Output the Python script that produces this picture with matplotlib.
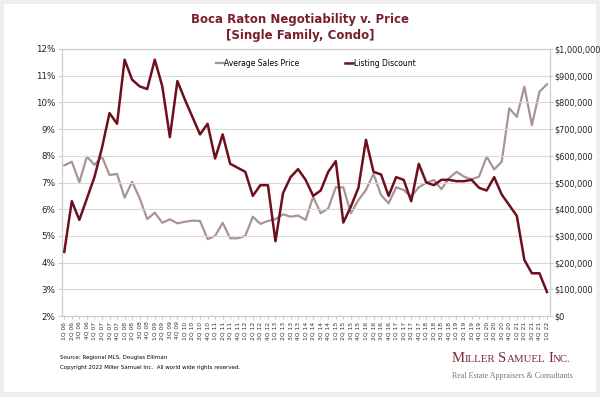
import matplotlib.pyplot as plt
from matplotlib.patches import Rectangle
from matplotlib.ticker import FuncFormatter, MultipleLocator

# quarters 1Q 06 .. 1Q 22
quarters = [f'{q}Q {y:02d}' for y in range(6, 22) for q in range(1, 5)] + ['1Q 22']

# listing discount, percent
listing_discount = [
    4.4, 6.3, 5.6, 6.4, 7.2, 8.3, 9.6, 9.2, 11.6, 10.85,
    10.6, 10.5, 11.6, 10.6, 8.7, 10.8, 10.1, 9.45, 8.8, 9.2,
    7.9, 8.8, 7.7, 7.55, 7.4, 6.5, 6.9, 6.9, 4.8, 6.6,
    7.2, 7.5, 7.1, 6.5, 6.7, 7.4, 7.8, 5.5, 6.1, 6.8,
    8.6, 7.4, 7.3, 6.5, 7.2, 7.1, 6.3, 7.7, 7.0, 6.9,
    7.1, 7.1, 7.05, 7.05, 7.1, 6.8, 6.7, 7.2, 6.55, 6.15,
    5.75, 4.1, 3.6, 3.6, 2.9,
]

# average sales price, thousands of dollars
avg_price = [
    564, 578, 501, 597, 566, 597, 528, 532, 443, 503,
    441, 363, 387, 349, 362, 347, 353, 357, 356, 288,
    300, 349, 291, 291, 300, 372, 345, 356, 363, 381,
    372, 376, 360, 447, 385, 403, 482, 482, 385, 434,
    472, 532, 453, 422, 482, 472, 447, 482, 499, 509,
    475, 516, 540, 522, 512, 522, 597, 549, 578, 778,
    746, 859, 715, 840, 868,
]

MAROON = '#6e0f1e'
MAUVE = '#a89497'
GRID = '#d9d9d9'

fig = plt.figure(figsize=(6, 3.97), dpi=100, facecolor='#eeeeee')
W, H = 600, 397
# white card behind everything
fig.patches.append(Rectangle((4 / W, 5 / H), 592 / W, 388 / H, transform=fig.transFigure,
                             facecolor='white', edgecolor='none', zorder=-10))

ax = fig.add_axes([62 / W, 1 - 316 / H, 488 / W, 267 / H])
ax2 = ax.twinx()
ax.set_zorder(ax2.get_zorder() + 1)
ax.patch.set_visible(False)
ax2.patch.set_visible(False)

x = list(range(len(quarters)))
ax2.plot(x, [v * 1000 for v in avg_price], color=MAUVE, lw=1.6, label='Average Sales Price')
ax.plot(x, listing_discount, color=MAROON, lw=1.8, label='Listing Discount')

ax.set_xlim(-0.3, len(quarters) - 0.6)
ax.set_ylim(2, 12)
ax2.set_ylim(0, 1000000)
ax.yaxis.set_major_locator(MultipleLocator(1))
ax2.yaxis.set_major_locator(MultipleLocator(100000))
ax.yaxis.set_major_formatter(FuncFormatter(lambda v, p: f'{v:.0f}%'))
ax2.yaxis.set_major_formatter(FuncFormatter(lambda v, p: f'${v:,.0f}'))
ax.grid(axis='y', color=GRID, lw=0.8, zorder=0)

ax.set_xticks(x)
ax.set_xticklabels(quarters, rotation=90, fontsize=4.3, color='#333333')
for a in (ax, ax2):
    for s in a.spines.values():
        s.set_color('#cccccc')
        s.set_linewidth(0.8)
ax.tick_params(axis='y', labelsize=6.3, colors='#222222', length=3, color='#cccccc', pad=2)
ax2.tick_params(axis='y', labelsize=5.9, colors='#222222', length=2, color='#cccccc', pad=1.5)
ax.tick_params(axis='x', length=2, color='#cccccc', pad=2)

h1, l1 = ax2.get_legend_handles_labels()
h2, l2 = ax.get_legend_handles_labels()
ax.legend(h1 + h2, l1 + l2, ncol=2, frameon=False, fontsize=5.5, loc='upper center',
          bbox_to_anchor=(0.52, 0.99), handlelength=1.0, handletextpad=0.1, columnspacing=6)

fig.text(0.5, 1 - 20 / H, 'Boca Raton Negotiability v. Price', ha='center', va='center',
         fontsize=8.5, fontweight='bold', color='#7a1f2d')
fig.text(0.5, 1 - 35 / H, '[Single Family, Condo]', ha='center', va='center',
         fontsize=8.5, fontweight='bold', color='#7a1f2d')

fig.text(60 / W, 1 - 357 / H, 'Source: Regional MLS, Douglas Elliman', fontsize=4, va='center')
fig.text(60 / W, 1 - 367 / H, 'Copyright 2022 Miller Samuel Inc.  All world wide rights reserved.',
         fontsize=4, va='center')

# small-caps logo built piece by piece
renderer = fig.canvas.get_renderer()
pieces = [('M', 10.5), ('ILLER', 7.8), (' ', 7.8), ('S', 10.5), ('AMUEL', 7.8), (' ', 7.8),
          ('I', 10.5), ('NC.', 7.8)]
xpos = 452 / W
for s, size in pieces:
    t = fig.text(xpos, 1 - 362 / H, s, fontsize=size, family='Liberation Serif',
                 color='#7a2a33', va='baseline')
    xpos += t.get_window_extent(renderer).width / W
fig.text(452 / W, 1 - 376 / H, 'Real Estate Appraisers & Consultants', fontsize=5.8,
         family='Liberation Serif', color='#777777', va='center')

fig.savefig('out.png', dpi=100, facecolor=fig.get_facecolor())
